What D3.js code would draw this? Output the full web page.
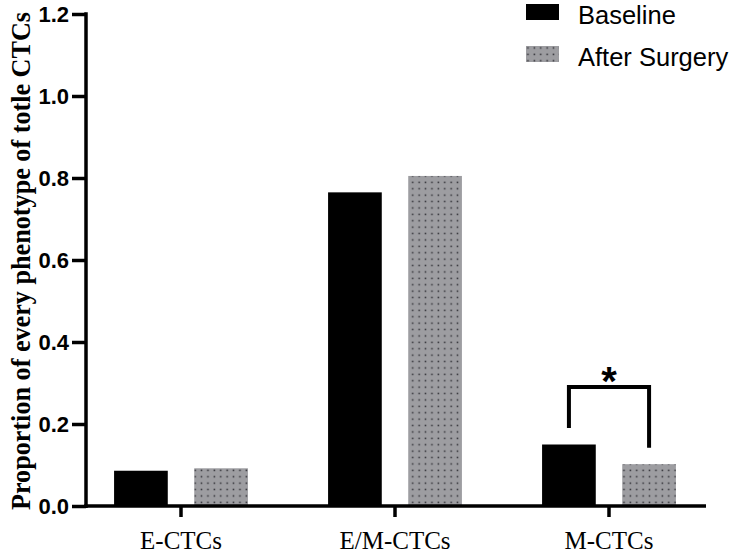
<!DOCTYPE html>
<html>
<head>
<meta charset="utf-8">
<script src="https://cdn.jsdelivr.net/npm/d3@7"></script>
<style>
  html, body { margin: 0; padding: 0; background: #fff; }
  svg { display: block; }
</style>
</head>
<body>
<svg id="chart" width="735" height="554"></svg>
<script>
// ---- data ----
const categories = ["E-CTCs", "E/M-CTCs", "M-CTCs"];
const seriesNames = ["Baseline", "After Surgery"];
const baselineValues = [0.086, 0.765, 0.150];
const afterSurgeryValues = [0.092, 0.805, 0.102];
const yTickValues = [0, 0.2, 0.4, 0.6, 0.8, 1.0, 1.2];
const yTitle = "Proportion of every phenotype of totle CTCs";
const sigCategory = "M-CTCs";
const sigTop = 0.29;
const sigLeftEnd = 0.19;
const sigRightEnd = 0.142;
const sigLabel = "*";

// ---- layout ----
const svg = d3.select("#chart");
const axisX = 86, axisRight = 706, baseY = 506, topY = 14;

const x = d3.scaleBand().domain(categories).range([74, 716]).paddingInner(0).paddingOuter(0);
const xSub = d3.scaleBand().domain(seriesNames).range([0, x.bandwidth()])
  .paddingInner(0.33).paddingOuter(0.5);
const y = d3.scaleLinear().domain([0, 1.2]).range([baseY, topY]);

const valuesBySeries = { "Baseline": baselineValues, "After Surgery": afterSurgeryValues };

// pattern for After Surgery
const defs = svg.append("defs");
const pat = defs.append("pattern").attr("id", "dots")
  .attr("patternUnits", "userSpaceOnUse").attr("width", 6.4).attr("height", 6.4);
pat.append("rect").attr("width", 6.4).attr("height", 6.4).attr("fill", "#9d9da1");
pat.append("rect").attr("x", 2.4).attr("y", 2.4).attr("width", 1.5).attr("height", 1.5).attr("fill", "#2e2e33");

const fills = { "Baseline": "#000000", "After Surgery": "url(#dots)" };

// bars
const data = [];
categories.forEach((c, i) => {
  seriesNames.forEach(s => data.push({ cat: c, series: s, value: valuesBySeries[s][i] }));
});
svg.append("g").selectAll("rect").data(data).join("rect")
  .attr("x", d => x(d.cat) + xSub(d.series))
  .attr("width", xSub.bandwidth())
  .attr("y", d => y(d.value))
  .attr("height", d => baseY - y(d.value))
  .attr("fill", d => fills[d.series]);

// y axis
const yAxis = d3.axisLeft(y).tickValues(yTickValues).tickFormat(d3.format(".1f"))
  .tickSize(14).tickSizeOuter(0).tickPadding(3);
const gy = svg.append("g").attr("transform", `translate(${axisX},0)`).call(yAxis);
gy.select(".domain").remove();
gy.selectAll(".tick line").attr("stroke", "#000").attr("stroke-width", 3.5);
gy.selectAll(".tick text").attr("fill", "#000")
  .style("font-family", "Arial, 'Liberation Sans', sans-serif")
  .style("font-weight", "bold").style("font-size", "22px");
svg.append("line").attr("x1", axisX).attr("x2", axisX)
  .attr("y1", topY - 1.75).attr("y2", baseY + 2)
  .attr("stroke", "#000").attr("stroke-width", 3.5);

// x axis
const xAxis = d3.axisBottom(x).tickSize(11).tickSizeOuter(0);
const gx = svg.append("g").attr("transform", `translate(0,${baseY})`).call(xAxis);
gx.select(".domain").remove();
gx.selectAll(".tick line").attr("stroke", "#000").attr("stroke-width", 3.5);
gx.selectAll(".tick text").attr("fill", "#000").attr("y", 43).attr("dy", 0)
  .style("font-family", "'Times New Roman', 'Liberation Serif', serif")
  .style("font-size", "25px");
svg.append("line").attr("x1", axisX - 1.75).attr("x2", axisRight)
  .attr("y1", baseY).attr("y2", baseY)
  .attr("stroke", "#000").attr("stroke-width", 3.5);

// y title (slightly condensed along its length)
svg.append("text")
  .attr("transform", `translate(30,${(topY + baseY) / 2 + 1}) rotate(-90) scale(0.935,1)`)
  .attr("text-anchor", "middle")
  .style("font-family", "'Times New Roman', 'Liberation Serif', serif")
  .style("font-weight", "bold").style("font-size", "28px")
  .attr("fill", "#000")
  .text(yTitle);

// significance bracket
const xl = x(sigCategory) + xSub("Baseline") + xSub.bandwidth() / 2;
const xr = x(sigCategory) + xSub("After Surgery") + xSub.bandwidth() / 2;
svg.append("path")
  .attr("d", `M${xl},${y(sigLeftEnd)}V${y(sigTop)}H${xr}V${y(sigRightEnd)}`)
  .attr("fill", "none").attr("stroke", "#000").attr("stroke-width", 4)
  .attr("stroke-linejoin", "miter");
svg.append("text")
  .attr("x", (xl + xr) / 2).attr("y", y(sigTop) + 8)
  .attr("text-anchor", "middle")
  .style("font-family", "Arial, 'Liberation Sans', sans-serif")
  .style("font-weight", "bold").style("font-size", "40px")
  .attr("fill", "#000").text(sigLabel);

// legend
const legendY = d3.scalePoint().domain(seriesNames).range([12, 54]);
const lg = svg.append("g");
seriesNames.forEach(s => {
  lg.append("rect").attr("x", 526).attr("y", legendY(s) - 8)
    .attr("width", 33).attr("height", 16).attr("fill", fills[s]);
  lg.append("text").attr("x", 578).attr("y", legendY(s) + 11.5)
    .style("font-family", "Arial, 'Liberation Sans', sans-serif")
    .style("font-size", "25.5px").attr("fill", "#000").text(s);
});
</script>
</body>
</html>
